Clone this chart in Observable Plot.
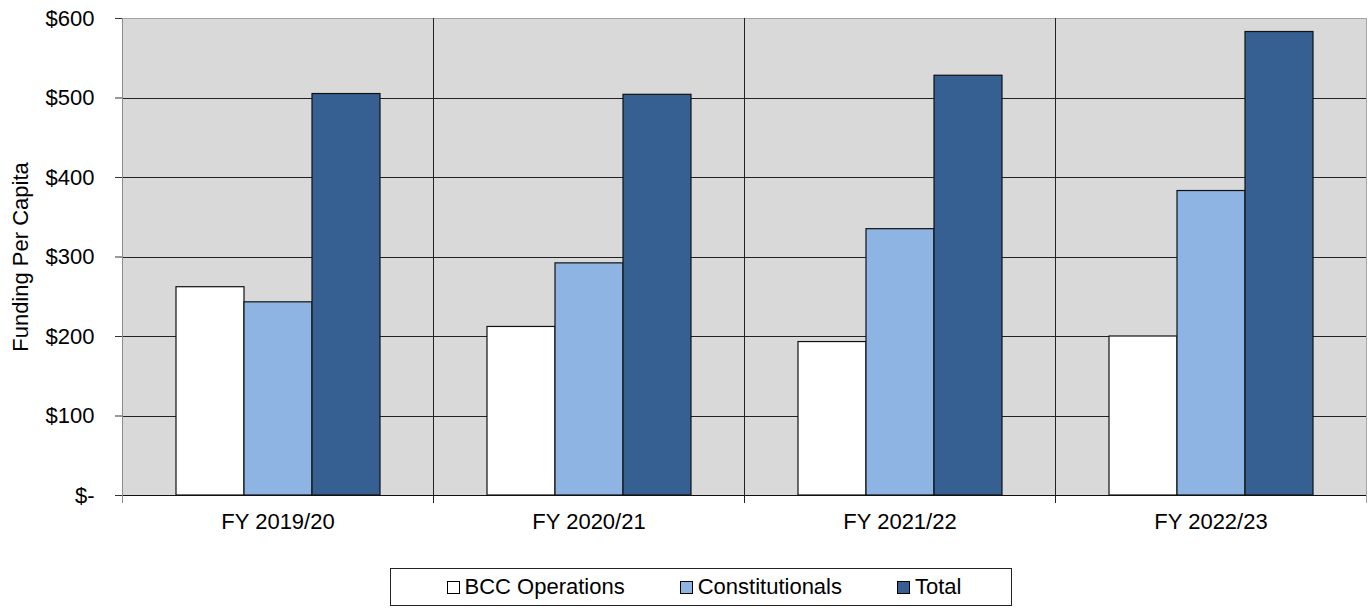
<!DOCTYPE html>
<html>
<head>
<meta charset="utf-8">
<script src="https://cdn.jsdelivr.net/npm/d3@7"></script>
<script src="https://cdn.jsdelivr.net/npm/@observablehq/plot@0.6"></script>
<style>
  html, body { margin: 0; padding: 0; background: #ffffff; }
  #chart { width: 1372px; }
  .legend {
    box-sizing: border-box;
    margin-left: 390px;
    width: 622px;
    height: 38px;
    border: 1px solid #222;
    display: flex;
    justify-content: center;
    align-items: center;
    gap: 55px;
    font-family: Arial, "Liberation Sans", sans-serif;
    font-size: 22px;
    line-height: 36px;
    color: #000;
    padding-left: 6px;
  }
  .legend-item { display: flex; align-items: baseline; white-space: nowrap; }
  .swatch {
    display: inline-block;
    box-sizing: border-box;
    width: 13px;
    height: 13px;
    border: 1px solid #000;
    margin-right: 5px;
  }
</style>
</head>
<body>
<div id="chart"></div>
<script>
// Per-capita funding by fiscal year
const years = ["FY 2019/20", "FY 2020/21", "FY 2021/22", "FY 2022/23"];
const series = ["BCC Operations", "Constitutionals", "Total"];
const bccOperations = [262, 212, 193, 200];
const constitutionals = [243, 292, 335, 383];
const total = [505, 504, 528, 583];
const seriesColors = ["#ffffff", "#8eb4e3", "#366092"];
const yTicks = [0, 100, 200, 300, 400, 500, 600];

// long-form table: one row per year and series
const valuesBySeries = [bccOperations, constitutionals, total];
const rows = [];
years.forEach((year, i) => {
  series.forEach((s, j) => rows.push({year, series: s, value: valuesBySeries[j][i]}));
});

const money = d => d === 0 ? "$-" : "$" + d;

const chart = Plot.plot({
  width: 1372,
  height: 568,
  marginTop: 18,
  marginRight: 6,
  marginBottom: 73,
  marginLeft: 122,
  style: {fontFamily: "Arial, 'Liberation Sans', sans-serif", fontSize: "22px", color: "#000", background: "#ffffff"},
  fx: {domain: years, padding: 0, label: null},
  x: {domain: series, paddingInner: 0, paddingOuter: 0.754, axis: null},
  y: {domain: [0, 600], label: "Funding Per Capita"},
  color: {domain: series, range: seriesColors},
  marks: [
    Plot.frame({fill: "#d9d9d9", stroke: null}),
    Plot.gridY(yTicks.slice(1, -1), {stroke: "#222", strokeOpacity: 1, shapeRendering: "crispEdges"}),
    Plot.barY(rows, {fx: "year", x: "series", y: "value", fill: "series", stroke: "#111", strokeWidth: 1.2}),
    Plot.ruleY([0], {stroke: "#111", shapeRendering: "crispEdges"}),
    Plot.frame({anchor: "top", stroke: "#a6a6a6"}),
    Plot.frame({anchor: "left", stroke: "#222", insetBottom: -7}),
    Plot.frame({anchor: "left", stroke: "#8c8c8c", insetBottom: -7, fx: () => years[0]}),
    Plot.frame({anchor: "right", stroke: "#a6a6a6", insetBottom: -7, fx: () => years[years.length - 1]}),
    Plot.axisY({
      ticks: yTicks,
      tickSize: 7,
      tickPadding: 21,
      tickFormat: money,
      stroke: "#333",
      label: "Funding Per Capita",
      labelAnchor: "center",
      labelArrow: false,
      labelOffset: 110
    }),
    Plot.axisFx({anchor: "bottom", tickSize: 0, tickPadding: 18, label: null})
  ]
});
document.getElementById("chart").appendChild(chart);

// legend below the chart
const legend = document.createElement("div");
legend.className = "legend";
series.forEach((s, j) => {
  const item = document.createElement("span");
  item.className = "legend-item";
  const sw = document.createElement("span");
  sw.className = "swatch";
  sw.style.background = seriesColors[j];
  item.appendChild(sw);
  item.appendChild(document.createTextNode(s));
  legend.appendChild(item);
});
document.body.appendChild(legend);
</script>
</body>
</html>
